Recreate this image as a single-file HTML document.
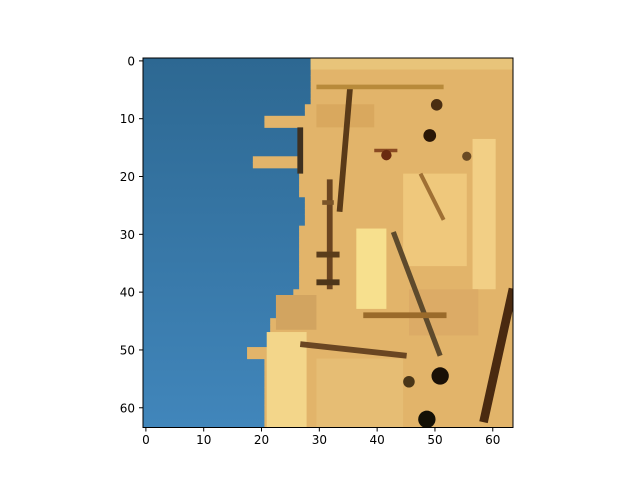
<!DOCTYPE html>
<html><head><meta charset="utf-8"><style>
body{margin:0;background:#fff;}
svg{display:block;font-family:"DejaVu Sans","Liberation Sans",sans-serif;}
</style></head><body>
<svg id="chart" width="640" height="480">
<defs>
<linearGradient id="sky" x1="0" y1="0" x2="0" y2="1"><stop offset="0" stop-color="#2d6892"/><stop offset="1" stop-color="#4186bb"/></linearGradient>
<clipPath id="clip"><rect x="143" y="58" width="370" height="369.5"/></clipPath>
</defs>
<g id="plot" clip-path="url(#clip)"></g>
<g id="axes"></g>
</svg>
<script>
// row-wise first non-sky column (64 rows)
const skyEdge=[29,29,29,29,29,29,29,29,28,28,21,21,27,27,27,27,27,19,19,27,27,27,27,27,28,28,28,28,28,27,27,27,27,27,27,27,27,27,27,27,26,23,23,23,23,22,22,22,22,22,18,18,21,21,21,21,21,21,21,21,21,21,21,21];
// light patches [col0,row0,col1,row1,color]
const patches=[[36.9,29.5,42.1,43.4,"#f7e08e"],[21.4,47.4,28.3,64,"#f3d68a"],[57,14,61,40,"#f2cf85"],[29,0,64,2,"#e8c47a"],[45,20,56,36,"#efc87c"],[30,52,45,64,"#e6bd74"],[30,8,40,12,"#d9a85e"],[46,40,58,48,"#dcab66"],[23,41,30,47,"#d2a460"]];
// dark strokes [col0,row0,col1,row1,width(cols),color]
const strokes=[[35.8,5.3,34,26.6,1,"#5a3a18"],[32.3,21,32.3,40,1,"#6a4420"],[43.3,30.1,51.4,51.5,0.9,"#5e4a2c"],[38.1,44.5,52.5,44.5,1,"#9a6a2a"],[27.2,49.5,45.6,51.5,1,"#6a4622"],[64,39.9,58.9,63,1.5,"#4a2a10"],[27.2,12,27.2,20,1,"#3e3020"],[30,34,34,34,1,"#5a3c1a"],[30,38.8,34,38.8,1,"#4e361a"],[30,5,52,5,0.8,"#b88a3a"],[40,16,44,16,0.6,"#8a4a22"],[31,25,33,25,0.8,"#7a5428"],[48,20,52,28,0.7,"#a07034"]];
// dark blobs [col,row,radius,color]
const blobs=[[42.1,16.8,0.9,"#6a2a10"],[49.6,13.4,1.1,"#2a1606"],[50.8,8.1,1,"#4a2e12"],[51.4,55,1.5,"#1a1006"],[49.1,62.5,1.5,"#141006"],[46,56,1,"#4a3618"],[56,17,0.8,"#6a4a24"]];
const ns="http://www.w3.org/2000/svg",S=370/64;
const xs=c=>143+c*S, ys=r=>58+r*S;
function el(t,a,p){const e=document.createElementNS(ns,t);for(const k in a)e.setAttribute(k,a[k]);p.appendChild(e);return e;}
const plot=document.getElementById('plot'),axes=document.getElementById('axes');
let r=el('rect',{x:143,y:58,width:370,height:370,fill:'url(#sky)'},plot);


skyEdge.forEach((c,i)=>{const b=el('rect',{x:xs(c),y:ys(i),width:xs(64)-xs(c)+1,height:S+0.5,fill:'#e2b46a'},plot);

});
patches.forEach(p=>{const e=el('rect',{x:xs(p[0]),y:ys(p[1]),width:(p[2]-p[0])*S,height:(p[3]-p[1])*S,fill:p[4]},plot);

});
strokes.forEach(s=>{const e=el('line',{x1:xs(s[0]),y1:ys(s[1]),x2:xs(s[2]),y2:ys(s[3]),stroke:s[5],'stroke-width':s[4]*S},plot);

});
blobs.forEach(b=>{const e=el('circle',{cx:xs(b[0]),cy:ys(b[1]),r:b[2]*S,fill:b[3]},plot);

});
const frame=el('rect',{x:143,y:58,width:370,height:369.5,fill:'none',stroke:'#000','stroke-width':1},axes);


const ticks=[0,10,20,30,40,50,60];
ticks.forEach(t=>{const x=xs(t+0.5);
const l=el('line',{x1:x,y1:427.5,x2:x,y2:431.5,stroke:'#000'},axes);


const tx=el('text',{x:x,y:444,'text-anchor':'middle','font-size':12},axes);tx.textContent=t;


const y=ys(t+0.5);
const l2=el('line',{x1:139,y1:y,x2:143,y2:y,stroke:'#000'},axes);


const ty=el('text',{x:135,y:y+4.5,'text-anchor':'end','font-size':12},axes);ty.textContent=t;

});
</script>
</body></html>
